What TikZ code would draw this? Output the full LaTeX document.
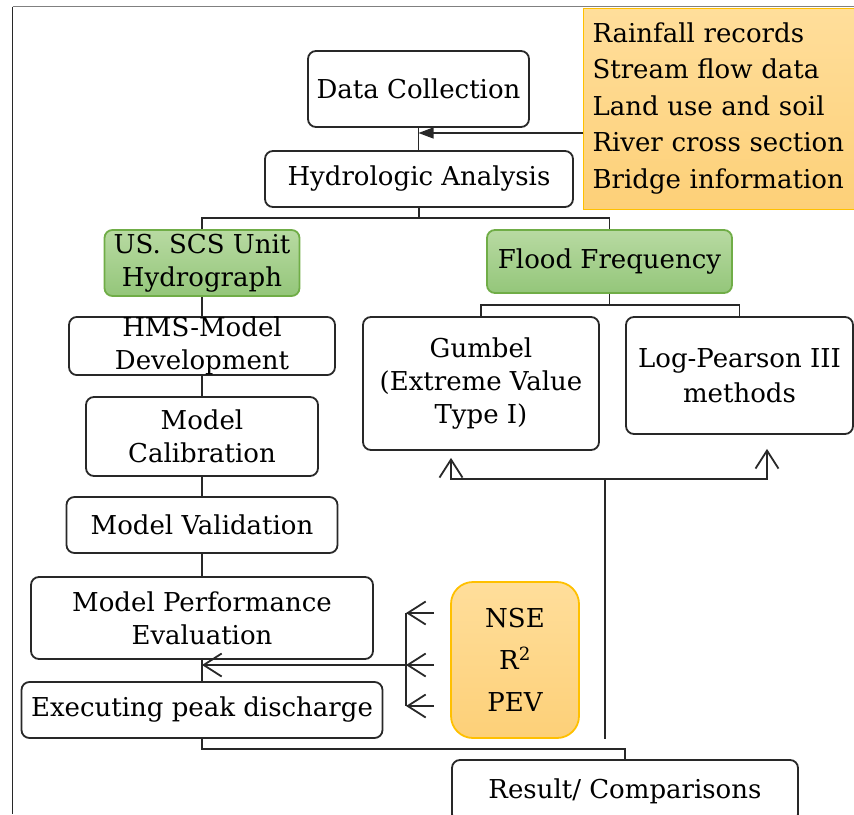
\documentclass[tikz,border=0pt]{standalone}
\usepackage{fontspec}
\setmainfont{DejaVu Serif}
\usepackage{tikz}
\usetikzlibrary{arrows.meta}
\definecolor{edge}{RGB}{40,40,40}
\definecolor{leaftop}{RGB}{184,218,162}
\definecolor{leafbot}{RGB}{148,198,122}
\definecolor{leafrim}{RGB}{112,173,71}
\definecolor{sandtop}{RGB}{255,222,155}
\definecolor{sandbot}{RGB}{253,208,120}
\definecolor{sandrim}{RGB}{255,192,0}
\tikzset{ln/.style={draw=edge, line width=1.8pt}}
\tikzset{ar/.style={ln, -{Straight Barb[length=18pt,width=23pt]}}}
\tikzset{wb/.style={draw=edge, line width=1.8pt, rounded corners=8pt, fill=white, inner sep=0pt, align=center}}
\tikzset{gb/.style={wb, draw=leafrim, top color=leaftop, bottom color=leafbot}}
\tikzset{ob/.style={wb, draw=sandrim, top color=sandtop, bottom color=sandbot}}

\begin{document}
\begin{tikzpicture}[x=1pt, y=-1pt]
        \useasboundingbox (0,0) rectangle (854,814);
        \draw [gray, line width=1.4pt] (12.5,6.5) -- (854,6.5);
        \draw [edge, line width=1.6pt] (12.5,6.5) -- (12.5,814);
        \begin{scope}[font=\fontsize{26}{33}\selectfont]
          \node (dc) at (418.5,89) [wb, minimum width=221pt, minimum height=76pt] {Data Collection};
          \node (ha) at (419,179) [wb, minimum width=308pt, minimum height=56pt] {Hydrologic Analysis};
          \node (src) at (583,7.5) [ob, anchor=north west, rounded corners=0pt, line width=1pt,
            minimum width=290pt, minimum height=201pt, text width=272pt, inner xsep=9pt, align=left,
            font=\fontsize{26}{36.5}\selectfont]
            {Rainfall records\\Stream flow data\\Land use and soil\\River cross section\\Bridge information};
          \coordinate (j) at (418.5,133);
          \draw [ln] (dc.south) -- (dc.south |- ha.north);
          \draw [draw=edge, line width=1.1pt, -{Triangle[length=15pt,width=11pt]}] (src.west |- j) -- (j);
          \coordinate (t) at (419,218);
          \draw [ln] (ha.south) -- (ha.south |- t);
          % left branch
          \node (us) at (202,263) [gb, minimum width=195pt, minimum height=66pt] {US. SCS Unit\\Hydrograph};
          \node (hms) at (202,346) [wb, minimum width=266pt, minimum height=56pt] {HMS-Model\\Development}
            edge [ln] (us);
          \node (mc) at (202,436.5) [wb, minimum width=232pt, minimum height=79pt] {Model\\Calibration}
            edge [ln] (hms);
          \node (mv) at (202,525) [wb, minimum width=271pt, minimum height=56pt] {Model Validation}
            edge [ln] (mc);
          \node (mpe) at (202,618) [wb, minimum width=342pt, minimum height=82pt] {Model Performance\\Evaluation}
            edge [ln] (mv);
          \node (epd) at (202,710) [wb, minimum width=361pt, minimum height=56pt] {Executing peak discharge}
            edge [ln] (mpe);
          % right branch
          \node (ff) at (609.5,261.5) [gb, minimum width=245pt, minimum height=63pt] {Flood Frequency};
          \draw [ln] (us.north) |- (t) -| (ff.north);
          \coordinate (f) at (609.5,305);
          \node (gu) at (481,383.5) [wb, minimum width=236pt, minimum height=133pt] {Gumbel\\(Extreme Value\\Type I)};
          \node (lp) at (739.5,375.5) [wb, minimum width=227pt, minimum height=117pt, font=\fontsize{26}{35}\selectfont] {Log-Pearson III\\methods};
          \draw [ln] (ff.south) -- (f);
          \draw [ln] (gu.north) |- (f) -| (lp.north);
          \node (nse) at (515,660) [ob, rounded corners=22pt, minimum width=128pt, minimum height=156pt,
            font=\fontsize{26}{42}\selectfont] {NSE\\R\textsuperscript{2}\\PEV};
          \coordinate (m) at (605,479);
          \draw [ar] (m) -| ([xshift=-30pt,yshift=-7pt]gu.south);
          \draw [ar] (m) -| ([xshift=27.5pt,yshift=-14pt]lp.south);
          \draw [ln] (m) -- (m |- nse.south);
          % metrics
          \coordinate (b1) at (406,613);
          \coordinate (br) at (406,665);
          \coordinate (b3) at (406,706);
          \draw [ln] (b1) -- (b3);
          \foreach \k in {b1,br,b3}
            \draw [ar, shorten <=16pt] (nse.west |- \k) -- (\k);
          \draw [ar] (br) -- (br -| mpe);
          \node (res) at (625,791) [wb, minimum width=346pt, minimum height=62pt] {Result/ Comparisons};
          \draw [ln] (epd.south) -- ++(0,10) -| (res.north);
        \end{scope}
      \end{tikzpicture}
\end{document}
